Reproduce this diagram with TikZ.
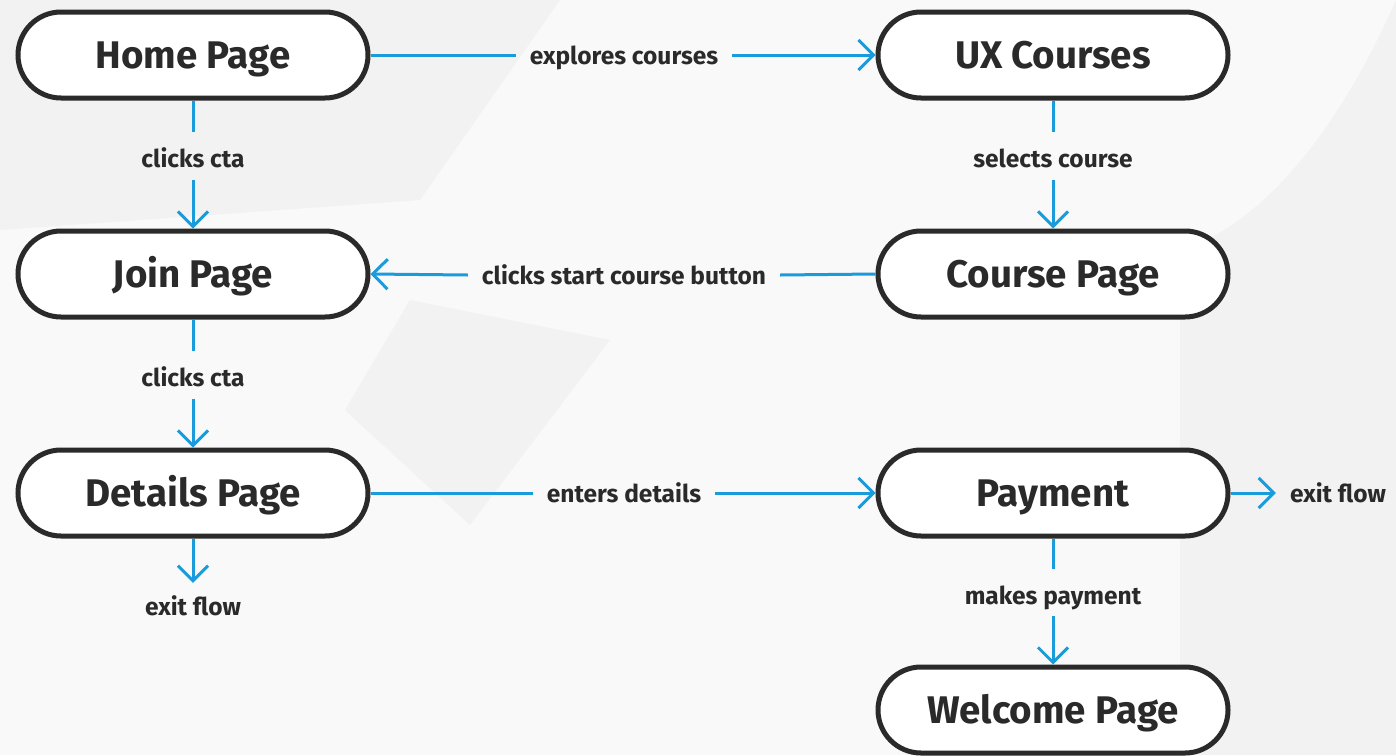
\documentclass[tikz,border=0pt]{standalone}
\usepackage{fontspec}
\setmainfont{Fira Sans}
\usetikzlibrary{arrows.meta}
\definecolor{ink}{HTML}{2A2A2A}
\definecolor{flow}{HTML}{1A9BDB}
\definecolor{bgpaper}{HTML}{F9F9F9}
\definecolor{bgmark}{HTML}{F2F2F2}
\tikzset{
  pagebox/.style={draw=ink, line width=5pt, fill=white, rounded corners=43pt,
    minimum width=350pt, minimum height=86pt, inner sep=0pt, text=ink,
    text height=26.5pt, text depth=0pt,
    font=\fontsize{38.5}{42}\selectfont\bfseries},
  flowlabel/.style={text=ink, inner sep=0pt, text height=21pt, text depth=3pt,
    font=\fontsize{24.5}{28}\selectfont\bfseries},
  flowline/.style={draw=flow, line width=3pt},
  flowarrow/.style={flowline, -{Straight Barb[length=15pt,width=30pt,line width=3pt]}},
}
\begin{document}
\begin{tikzpicture}[x=1pt,y=-1pt]
\useasboundingbox (0,0) rectangle (1396,755);
\fill[bgpaper] (0,0) rectangle (1396,755);
% faint watermark
\fill[bgmark] (1396,0) .. controls (1330,150) and (1250,230) .. (1180,250) -- (1180,755) -- (1396,755) -- cycle;
\fill[bgmark] (410,300) -- (610,340) -- (470,525) -- (345,410) -- cycle;
\fill[bgmark] (0,0) -- (560,0) -- (420,200) -- (0,230) -- cycle;

\node[pagebox] (home) at (193,55) {Home Page};
\node[pagebox] (ux) at (1053,55) {UX Courses};
\node[pagebox] (join) at (193,274) {Join Page};
\node[pagebox] (course) at (1053,274) {Course Page};
\node[pagebox] (details) at (193,493) {Details Page};
\node[pagebox] (pay) at (1053,493) {Payment};
\node[pagebox] (welcome) at (1053,710) {Welcome Page};

\node[flowlabel] (l1) at (624,55) {explores courses};
\node[flowlabel] (l2) at (193,158) {clicks cta};
\node[flowlabel] (l3) at (1053,158) {selects course};
\node[flowlabel] (l4) at (624,275) {clicks start course button};
\node[flowlabel] (l5) at (193,377) {clicks cta};
\node[flowlabel] (l6) at (624,493) {enters details};
\node[flowlabel] (l7) at (193,606) {exit flow};
\node[flowlabel] (l8) at (1338,493) {exit flow};
\node[flowlabel] (l9) at (1053,595) {makes payment};

\draw[flowline] (home.east) -- ([xshift=-14pt]l1.west);
\draw[flowarrow] ([xshift=14pt]l1.east) -- (ux.west);
\draw[flowline] (home.south) -- ([yshift=14pt]l2.north);
\draw[flowarrow] ([yshift=-10pt]l2.south) -- (join.north);
\draw[flowline] (ux.south) -- ([yshift=14pt]l3.north);
\draw[flowarrow] ([yshift=-10pt]l3.south) -- (course.north);
\draw[flowline] (course.west) -- ([xshift=14pt]l4.east);
\draw[flowarrow] ([xshift=-14pt]l4.west) -- (join.east);
\draw[flowline] (join.south) -- ([yshift=14pt]l5.north);
\draw[flowarrow] ([yshift=-10pt]l5.south) -- (details.north);
\draw[flowline] (details.east) -- ([xshift=-14pt]l6.west);
\draw[flowarrow] ([xshift=14pt]l6.east) -- (pay.west);
\draw[flowarrow] (details.south) -- ([yshift=11pt]l7.north);
\draw[flowarrow] (pay.east) -- ([xshift=-14pt]l8.west);
\draw[flowline] (pay.south) -- ([yshift=14pt]l9.north);
\draw[flowarrow] ([yshift=-9pt]l9.south) -- (welcome.north);
\end{tikzpicture}
\end{document}
